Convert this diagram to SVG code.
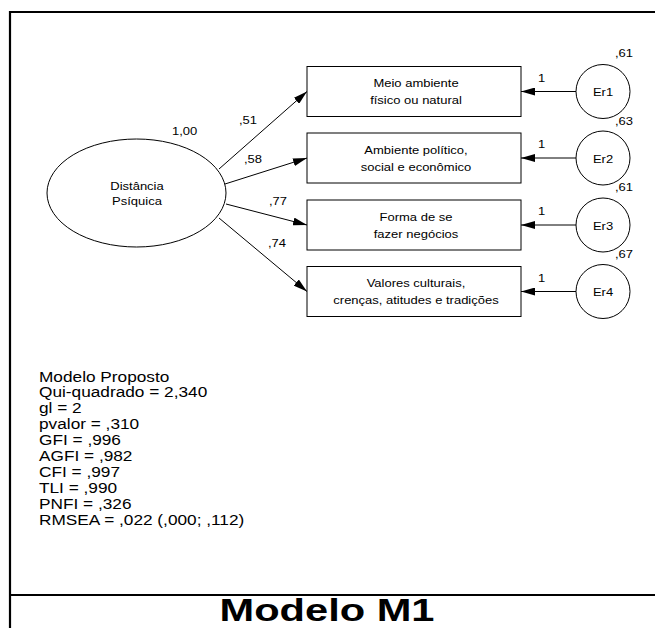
<svg xmlns="http://www.w3.org/2000/svg" width="655" height="628" viewBox="0 0 655 628">
<style>
text{font-family:"Liberation Sans",Arial,sans-serif;fill:#000}
.t{font-size:11.5px}
.m{text-anchor:middle}
.box{fill:#fff;stroke:#000;stroke-width:1}
.con{stroke:#000;stroke-width:1;fill:none;marker-end:url(#ah)}
.frame{stroke:#000;stroke-width:2.2;fill:none}
</style>
<defs>
<marker id="ah" viewBox="0 0 14 8" refX="14" refY="4" markerWidth="14" markerHeight="8" markerUnits="userSpaceOnUse" orient="auto">
<path d="M0,0 L14,4 L0,8 Z" fill="#000"/>
</marker>
</defs>
<rect width="655" height="628" fill="#fff"/>
<g id="frame">
<path class="frame" d="M10,628 V12 H655"/>
<path class="frame" d="M10,595 H655"/>
</g>
<g id="connectors">
<line class="con" x1="219" y1="169" x2="307" y2="91.5"/>
<line class="con" x1="225" y1="184" x2="307" y2="158"/>
<line class="con" x1="226" y1="204" x2="307" y2="225"/>
<line class="con" x1="219" y1="218" x2="307" y2="291.5"/>
<line class="con" x1="576" y1="91.5" x2="521" y2="91.5"/>
<line class="con" x1="576" y1="158" x2="521" y2="158"/>
<line class="con" x1="576" y1="225" x2="521" y2="225"/>
<line class="con" x1="576" y1="291.5" x2="521" y2="291.5"/>
<g class="t">
<text transform="translate(239,123.5) scale(1.13,1)">,51</text>
<text transform="translate(244,162.5) scale(1.13,1)">,58</text>
<text transform="translate(269,204.5) scale(1.13,1)">,77</text>
<text transform="translate(268,246.5) scale(1.13,1)">,74</text>
<text transform="translate(538,81.5) scale(1.13,1)">1</text>
<text transform="translate(538,148) scale(1.13,1)">1</text>
<text transform="translate(538,215) scale(1.13,1)">1</text>
<text transform="translate(538,281.5) scale(1.13,1)">1</text>
</g>
</g>
<g id="distancia">
<ellipse class="box" cx="136.5" cy="193" rx="89.5" ry="54"/>
<text class="t" transform="translate(172,134.5) scale(1.13,1)">1,00</text>
<text class="t m" transform="translate(137,190) scale(1.13,1)">Distância</text>
<text class="t m" transform="translate(137,205) scale(1.13,1)">Psíquica</text>
</g>
<g id="v1">
<rect class="box" x="307" y="66.5" width="214" height="50"/>
<text class="t m" transform="translate(416,87) scale(1.13,1)">Meio ambiente</text>
<text class="t m" transform="translate(416,104) scale(1.13,1)">físico ou natural</text>
</g>
<g id="v2">
<rect class="box" x="307" y="133" width="214" height="50"/>
<text class="t m" transform="translate(416,153.5) scale(1.13,1)">Ambiente político,</text>
<text class="t m" transform="translate(416,170.5) scale(1.13,1)">social e econômico</text>
</g>
<g id="v3">
<rect class="box" x="307" y="200" width="214" height="50"/>
<text class="t m" transform="translate(416,220.5) scale(1.13,1)">Forma de se</text>
<text class="t m" transform="translate(416,237.5) scale(1.13,1)">fazer negócios</text>
</g>
<g id="v4">
<rect class="box" x="307" y="266.5" width="214" height="50"/>
<text class="t m" transform="translate(416,287) scale(1.13,1)">Valores culturais,</text>
<text class="t m" transform="translate(416,304) scale(1.13,1)">crenças, atitudes e tradições</text>
</g>
<g id="er1">
<circle class="box" cx="603" cy="91.5" r="27"/>
<text class="t m" transform="translate(603,96) scale(1.13,1)">Er1</text>
<text class="t" transform="translate(615,57) scale(1.13,1)">,61</text>
</g>
<g id="er2">
<circle class="box" cx="603" cy="158" r="27"/>
<text class="t m" transform="translate(603,162.5) scale(1.13,1)">Er2</text>
<text class="t" transform="translate(615,124.5) scale(1.13,1)">,63</text>
</g>
<g id="er3">
<circle class="box" cx="603" cy="225" r="27"/>
<text class="t m" transform="translate(603,229.5) scale(1.13,1)">Er3</text>
<text class="t" transform="translate(615,191) scale(1.13,1)">,61</text>
</g>
<g id="er4">
<circle class="box" cx="603" cy="291.5" r="27"/>
<text class="t m" transform="translate(603,296) scale(1.13,1)">Er4</text>
<text class="t" transform="translate(615,257.5) scale(1.13,1)">,67</text>
</g>
<g id="stats">
<text style="font-size:15px" transform="translate(39,381.5) scale(1.15,1)">
<tspan x="0" y="0">Modelo Proposto</tspan>
<tspan x="0" y="16">Qui-quadrado = 2,340</tspan>
<tspan x="0" y="32">gl = 2</tspan>
<tspan x="0" y="48">pvalor = ,310</tspan>
<tspan x="0" y="64">GFI = ,996</tspan>
<tspan x="0" y="80">AGFI = ,982</tspan>
<tspan x="0" y="96">CFI = ,997</tspan>
<tspan x="0" y="112">TLI = ,990</tspan>
<tspan x="0" y="128">PNFI = ,326</tspan>
<tspan x="0" y="144">RMSEA = ,022 (,000; ,112)</tspan>
</text>
</g>
<g id="title">
<text class="m" style="font-size:32px;font-weight:bold" transform="translate(327,621) scale(1.3,1)">Modelo M1</text>
</g>
</svg>
